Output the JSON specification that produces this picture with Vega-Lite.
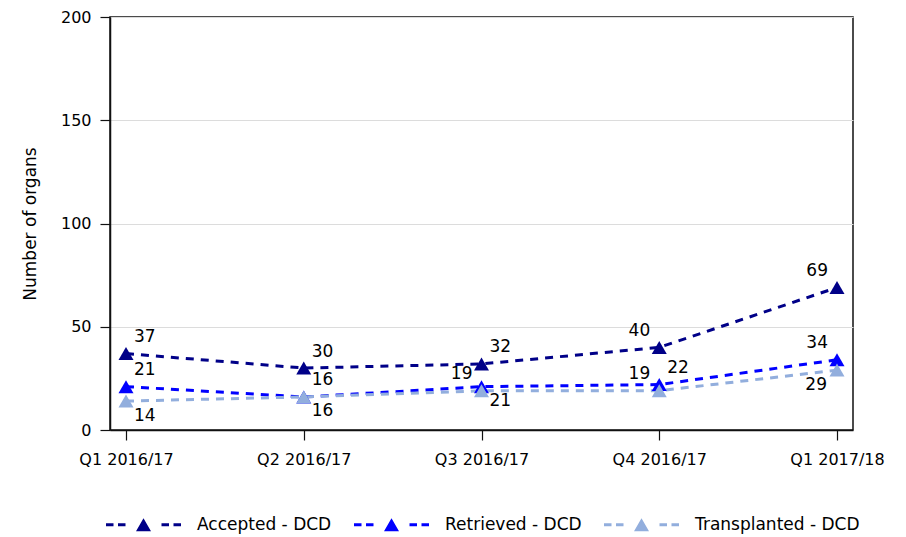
{
  "$schema": "https://vega.github.io/schema/vega-lite/v6.json",
  "width": 743,
  "height": 413,
  "autosize": {"type": "none"},
  "padding": {"left": 110, "top": 17, "right": 53, "bottom": 107},
  "background": "white",
  "config": {
    "font": "DejaVu Sans",
    "view": {"stroke": "#111111", "strokeWidth": 1.5},
    "axis": {
      "labelFont": "DejaVu Sans",
      "labelFontSize": 16,
      "labelColor": "black",
      "titleFont": "DejaVu Sans",
      "titleFontSize": 17,
      "titleFontWeight": "normal",
      "titleColor": "black",
      "domainColor": "#111111",
      "domainWidth": 1.5,
      "tickColor": "#111111",
      "tickWidth": 1.2,
      "tickSize": 10
    },
    "legend": {
      "labelFont": "DejaVu Sans",
      "labelFontSize": 17,
      "labelColor": "black"
    }
  },
  "data": {
    "values": [
      {"period": "Q1 2016/17", "series": "Accepted - DCD", "value": 37},
      {"period": "Q2 2016/17", "series": "Accepted - DCD", "value": 30},
      {"period": "Q3 2016/17", "series": "Accepted - DCD", "value": 32},
      {"period": "Q4 2016/17", "series": "Accepted - DCD", "value": 40},
      {"period": "Q1 2017/18", "series": "Accepted - DCD", "value": 69},
      {"period": "Q1 2016/17", "series": "Retrieved - DCD", "value": 21},
      {"period": "Q2 2016/17", "series": "Retrieved - DCD", "value": 16},
      {"period": "Q3 2016/17", "series": "Retrieved - DCD", "value": 21},
      {"period": "Q4 2016/17", "series": "Retrieved - DCD", "value": 22},
      {"period": "Q1 2017/18", "series": "Retrieved - DCD", "value": 34},
      {"period": "Q1 2016/17", "series": "Transplanted - DCD", "value": 14},
      {"period": "Q2 2016/17", "series": "Transplanted - DCD", "value": 16},
      {"period": "Q3 2016/17", "series": "Transplanted - DCD", "value": 19},
      {"period": "Q4 2016/17", "series": "Transplanted - DCD", "value": 19},
      {"period": "Q1 2017/18", "series": "Transplanted - DCD", "value": 29}
    ]
  },
  "encoding": {
    "x": {
      "field": "period",
      "type": "ordinal",
      "sort": null,
      "scale": {"type": "point", "padding": 0.09},
      "axis": {"title": null, "labelAngle": 0, "labelPadding": 11, "grid": false}
    },
    "y": {
      "field": "value",
      "type": "quantitative",
      "scale": {"domain": [0, 200], "nice": false},
      "axis": {
        "title": "Number of organs",
        "values": [0, 50, 100, 150, 200],
        "labelPadding": 9,
        "titlePadding": 21,
        "grid": true,
        "gridColor": "#dcdcdc",
        "gridWidth": 1
      }
    }
  },
  "layer": [
    {
      "mark": {"type": "line", "strokeWidth": 3, "strokeDash": [8, 7]},
      "encoding": {
        "order": {"value": null},
        "color": {
          "field": "series",
          "type": "nominal",
          "scale": {"domain": ["Accepted - DCD", "Retrieved - DCD", "Transplanted - DCD"], "range": ["#000088", "#0000ff", "#92aedd"]}
        }
      }
    },
    {
      "mark": {"type": "point", "shape": "triangle-up", "filled": true, "size": 225, "opacity": 1},
      "encoding": {
        "color": {
          "field": "series",
          "type": "nominal",
          "scale": {"domain": ["Accepted - DCD", "Retrieved - DCD", "Transplanted - DCD"], "range": ["#000088", "#0000ff", "#92aedd"]},
          "legend": {
            "title": null,
            "orient": "none",
            "direction": "horizontal",
            "legendX": -5,
            "legendY": 499,
            "symbolType": "M-5,-0.2H-4V0.2H-5Z M-3.4,-0.2H-2.4V0.2H-3.4Z M0,-0.866L1,0.866H-1Z M2.4,-0.2H3.4V0.2H2.4Z M4,-0.2H5V0.2H4Z",
            "symbolSize": 225,
            "symbolOffset": 30,
            "symbolStrokeWidth": 0,
            "symbolOpacity": 1,
            "labelOffset": 45,
            "columnPadding": 21,
            "labelLimit": 400,
            "encode": {"symbols": {"update": {"fill": {"scale": "color", "field": "value"}, "strokeWidth": {"value": 0}, "strokeDash": {"value": []}}}}
          }
        }
      }
    },
    {
      "transform": [{"filter": "indexof(['Accepted - DCD|Q1 2016/17','Accepted - DCD|Q2 2016/17','Accepted - DCD|Q3 2016/17','Retrieved - DCD|Q1 2016/17','Retrieved - DCD|Q2 2016/17','Retrieved - DCD|Q4 2016/17'], datum.series + '|' + datum.period) >= 0"}],
      "mark": {"type": "text", "align": "left", "baseline": "middle", "dx": 8, "dy": -16.5, "fontSize": 17, "color": "black"},
      "encoding": {"text": {"field": "value", "type": "quantitative"}}
    },
    {
      "transform": [{"filter": "indexof(['Accepted - DCD|Q4 2016/17','Accepted - DCD|Q1 2017/18','Retrieved - DCD|Q1 2017/18','Transplanted - DCD|Q3 2016/17','Transplanted - DCD|Q4 2016/17'], datum.series + '|' + datum.period) >= 0"}],
      "mark": {"type": "text", "align": "right", "baseline": "middle", "dx": -9, "dy": -16.5, "fontSize": 17, "color": "black"},
      "encoding": {"text": {"field": "value", "type": "quantitative"}}
    },
    {
      "transform": [{"filter": "indexof(['Transplanted - DCD|Q1 2016/17','Transplanted - DCD|Q2 2016/17','Retrieved - DCD|Q3 2016/17'], datum.series + '|' + datum.period) >= 0"}],
      "mark": {"type": "text", "align": "left", "baseline": "middle", "dx": 8, "dy": 14.5, "fontSize": 17, "color": "black"},
      "encoding": {"text": {"field": "value", "type": "quantitative"}}
    },
    {
      "transform": [{"filter": "indexof(['Transplanted - DCD|Q1 2017/18'], datum.series + '|' + datum.period) >= 0"}],
      "mark": {"type": "text", "align": "right", "baseline": "middle", "dx": -10, "dy": 14.5, "fontSize": 17, "color": "black"},
      "encoding": {"text": {"field": "value", "type": "quantitative"}}
    }
  ]
}
